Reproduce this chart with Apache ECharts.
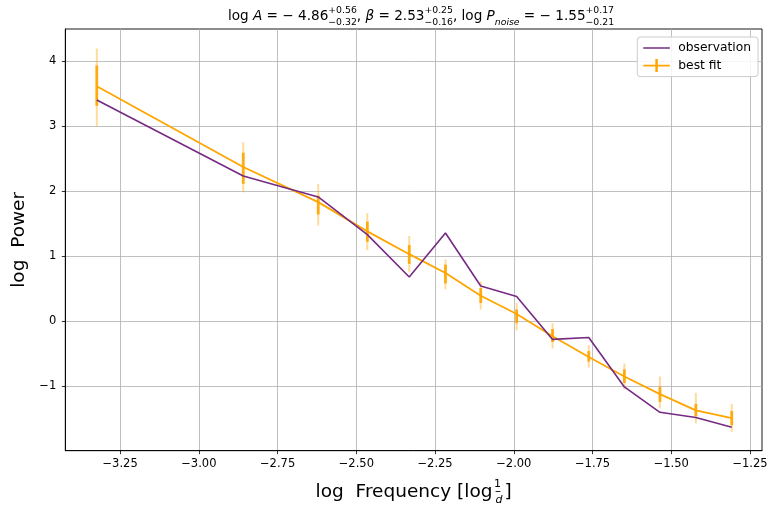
<!DOCTYPE html>
<html>
<head>
<meta charset="utf-8">
<script src="https://cdn.jsdelivr.net/npm/echarts@6/dist/echarts.min.js"></script>
<style>
html,body{margin:0;padding:0;background:#fff;}
#chart{width:769px;height:506px;}
</style>
</head>
<body>
<div id="chart"></div>
<script>
// ---- data ----
var logFreq   = [-3.324, -2.859, -2.621, -2.465, -2.332, -2.217, -2.105, -1.991, -1.877, -1.762, -1.649, -1.536, -1.422, -1.308];
var obsPower  = [3.40, 2.23, 1.91, 1.33, 0.68, 1.355, 0.54, 0.38, -0.28, -0.25, -1.01, -1.40, -1.48, -1.63];
var fitPower  = [3.61, 2.37, 1.83, 1.38, 1.03, 0.74, 0.39, 0.11, -0.23, -0.55, -0.85, -1.12, -1.37, -1.49];
var innerLow  = [3.31, 2.11, 1.64, 1.22, 0.88, 0.58, 0.28, -0.03, -0.32, -0.62, -0.95, -1.24, -1.46, -1.60];
var innerHigh = [3.93, 2.59, 1.93, 1.53, 1.17, 0.87, 0.51, 0.18, -0.12, -0.46, -0.74, -1.01, -1.27, -1.38];
var outerLow  = [3.00, 1.98, 1.47, 1.09, 0.76, 0.49, 0.18, -0.14, -0.42, -0.71, -1.05, -1.34, -1.57, -1.70];
var outerHigh = [4.19, 2.75, 2.11, 1.66, 1.31, 0.95, 0.61, 0.28, -0.03, -0.37, -0.65, -0.85, -1.10, -1.27];
var xTicks = [-3.25, -3.00, -2.75, -2.50, -2.25, -2.00, -1.75, -1.50, -1.25];
var yTicks = [-1, 0, 1, 2, 3, 4];
var seriesNames = ['observation', 'best fit'];

// ---- build ----
var FONT = 'DejaVu Sans';
var PURPLE = '#762a83';
var ORANGE = '#ffa500';

function pairs(xs, ys) { return xs.map(function (x, i) { return [x, ys[i]]; }); }
var errData = logFreq.map(function (x, i) { return [x, innerLow[i], innerHigh[i], outerLow[i], outerHigh[i]]; });
function fmt(v, d) { return (d == null ? String(v) : v.toFixed(d)).replace('-', '\u2212'); }
function rs(size, extra) {
  var o = {fontFamily: FONT, fontSize: size, fontWeight: 'normal', color: '#000', align: 'left'};
  for (var k in extra) o[k] = extra[k];
  return o;
}

var chart = echarts.init(document.getElementById('chart'), null, {renderer: 'canvas'});
var option = {
  animation: false,
  backgroundColor: '#ffffff',
  textStyle: {fontFamily: FONT},
  title: {
    left: 416, top: 1, textAlign: 'center',
    text: '{n|log }{i|A}{n| = \u2212 4.86}{sup|+0.56}{sub|\u22120.32}{n|, }{i|\u03b2}{n| = 2.53}{sup|+0.25}{sub|\u22120.16}{n|, log }{i|P}{subi|noise}{n| = \u2212 1.55}{sup|+0.17}{sub|\u22120.21}',
    textStyle: {
      fontWeight: 'normal',
      rich: {
        n: rs(13.6, {lineHeight: 21, verticalAlign: 'middle'}),
        i: rs(13.6, {fontStyle: 'italic', lineHeight: 21, verticalAlign: 'middle'}),
        sup: rs(9.3, {lineHeight: 10, verticalAlign: 'top', width: 0.01}),
        sub: rs(9.3, {lineHeight: 10, verticalAlign: 'bottom'}),
        subi: rs(9.3, {fontStyle: 'italic', lineHeight: 10, verticalAlign: 'bottom'})
      }
    }
  },
  legend: {
    orient: 'vertical', right: 11, top: 37,
    padding: [4, 7, 4, 6], itemGap: 3.6, itemWidth: 30, itemHeight: 14,
    backgroundColor: 'rgba(255,255,255,0.85)', borderColor: '#cccccc', borderWidth: 1, borderRadius: 3,
    textStyle: {fontFamily: FONT, fontSize: 12.3, color: '#000'},
    itemStyle: {borderWidth: 0},
    data: [
      {name: seriesNames[0], icon: 'path://M0,0 L0,0 M0,6.25 H26.6 V7.75 H0 Z M30,14 L30,14', itemStyle: {color: PURPLE, borderWidth: 0}},
      {name: seriesNames[1], icon: 'path://M0,0 L0,0 M0,6.1 H26.6 V7.9 H0 Z M12.05,0.5 H14.55 V13.5 H12.05 Z M30,14 L30,14', itemStyle: {color: ORANGE, borderWidth: 0}}
    ]
  },
  grid: {left: 65.3, right: 7, top: 29, bottom: 55.3, outerBoundsMode: 'none', containLabel: false,
         show: true, borderColor: '#000', borderWidth: 0.9, backgroundColor: 'transparent'},
  xAxis: {
    type: 'value', min: -3.424, max: -1.212,
    name: '{n|log  Frequency [log}{num|1}{bar|\u2013}{den|d}{n|]}',
    nameLocation: 'middle', nameGap: 26,
    nameTextStyle: {
      rich: {
        n: rs(18.5, {lineHeight: 30, verticalAlign: 'middle'}),
        num: rs(11, {lineHeight: 11, verticalAlign: 'top', width: 0.01, padding: [2, 0, 0, 1.5]}),
        bar: rs(12, {lineHeight: 12, verticalAlign: 'middle', width: 0.01, padding: [0, 0, 0, 1]}),
        den: rs(11, {fontStyle: 'italic', lineHeight: 11, verticalAlign: 'bottom', padding: [0, 2, 1, 0.5]})
      }
    },
    axisLine: {show: true, onZero: false, lineStyle: {color: '#000', width: 0.9}},
    axisTick: {show: true, customValues: xTicks, length: 3.5, lineStyle: {color: '#000', width: 0.8}},
    axisLabel: {customValues: xTicks, margin: 7, fontFamily: FONT, fontSize: 11.5, color: '#000', formatter: function (v) { return fmt(v, 2); }},
    splitLine: {show: true, lineStyle: {color: '#b0b0b0', width: 0.8}}
  },
  yAxis: {
    type: 'value', min: -1.99, max: 4.49,
    name: 'log  Power', nameLocation: 'middle', nameGap: 35,
    nameTextStyle: {fontFamily: FONT, fontSize: 18.5, color: '#000'},
    axisLine: {show: true, onZero: false, lineStyle: {color: '#000', width: 0.9}},
    axisTick: {show: true, customValues: yTicks, length: 3.5, lineStyle: {color: '#000', width: 0.8}},
    axisLabel: {customValues: yTicks, margin: 9, fontFamily: FONT, fontSize: 11.5, color: '#000', formatter: function (v) { return fmt(v); }},
    splitLine: {show: true, lineStyle: {color: '#b0b0b0', width: 0.8}}
  },
  series: [
    {
      name: seriesNames[0], type: 'line', data: pairs(logFreq, obsPower),
      symbol: 'none', color: PURPLE, lineStyle: {color: PURPLE, width: 1.6}, z: 4
    },
    {
      name: 'errors', type: 'custom', data: errData, z: 2,
      renderItem: function (params, api) {
        var x = api.value(0);
        var a = api.coord([x, api.value(3)]), b = api.coord([x, api.value(4)]);
        var c = api.coord([x, api.value(1)]), d = api.coord([x, api.value(2)]);
        return {
          type: 'group',
          children: [
            {type: 'line', shape: {x1: a[0], y1: a[1], x2: b[0], y2: b[1]}, style: {stroke: ORANGE, lineWidth: 2, opacity: 0.4}},
            {type: 'line', shape: {x1: c[0], y1: c[1], x2: d[0], y2: d[1]}, style: {stroke: ORANGE, lineWidth: 2.8, opacity: 0.9}}
          ]
        };
      }
    },
    {
      name: seriesNames[1], type: 'line', data: pairs(logFreq, fitPower),
      symbol: 'none', color: ORANGE, lineStyle: {color: ORANGE, width: 1.8}, z: 3
    }
  ]
};
chart.setOption(option);
</script>
</body>
</html>
